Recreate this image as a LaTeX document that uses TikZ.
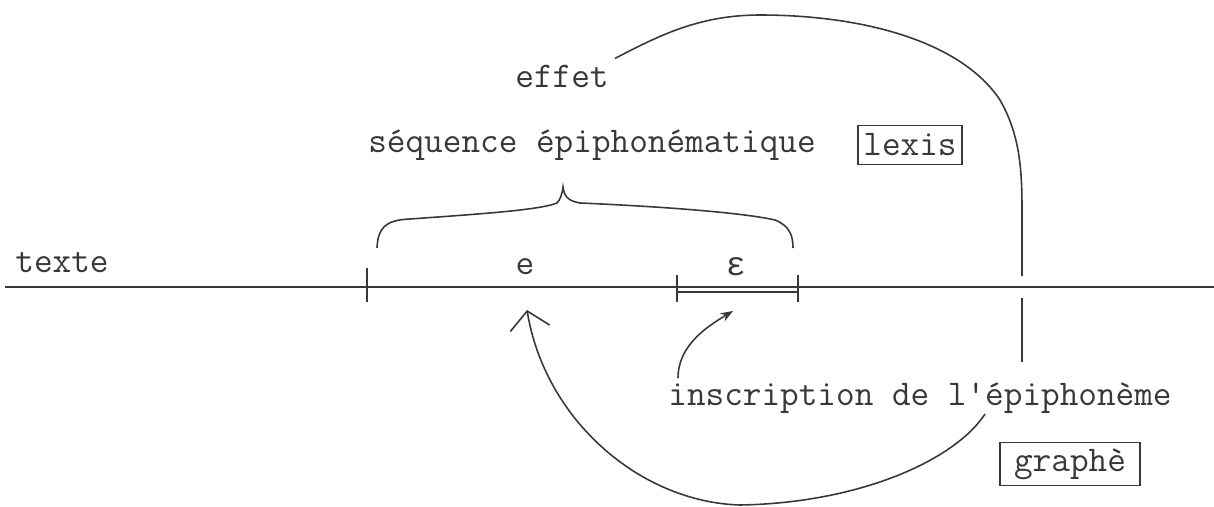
\documentclass[tikz,border=0pt]{standalone}
\usepackage{fontspec}
\usepackage{tikz}
\usetikzlibrary{positioning, calc, arrows.meta}

\newfontfamily\greekmono{Liberation Mono}
\newcommand{\typed}{\ttfamily\fontsize{20.6}{24}\selectfont}
\definecolor{ink}{gray}{0.22}

\begin{document}
\begin{tikzpicture}[
    x=0.02cm, y=-0.02cm,
    >=Stealth,
    every node/.style={font=\typed, text=ink},
    line/.style={draw=ink, line width=0.9pt},
    boxed/.style={
        draw=ink,
        line width=0.8pt,
        inner xsep=3pt,
        minimum height=0.78cm
    }
]
\useasboundingbox (0,0) rectangle (1214,507);

% labels
\node (texte) at (62,263) {texte};
\node (effet) at (562,76) {effet};
\node (seq) at (592,145) {séquence épiphonématique};
\node[boxed] (lexis) at (910,145) {lexis};
\node (e) at (525,267) {e};
\node (eps) at (736,267) {\greekmono\fontsize{19}{22}\selectfont ε};
\node (inscr) at (920,398) {inscription de l'épiphonème};
\node[boxed, minimum width=2.8cm] (graphe) at (1070,464) {graphè};

% text line and its cuts
\coordinate (start) at (5,287);
\coordinate (stop) at (1214,287);
\coordinate (cut0) at (367,287);
\coordinate (cut1) at (677,287);
\coordinate (cut2) at (798,287);
\draw[line] (start) -- (stop);
\draw[line] ($(cut0)+(0,-19)$) -- ($(cut0)+(0,15)$);
\draw[line] ($(cut1)+(0,-12)$) -- ($(cut1)+(0,15)$);
\draw[line] ($(cut2)+(0,-12)$) -- ($(cut2)+(0,15)$);
\draw[line] ($(cut1)+(0,5)$) -- ($(cut2)+(0,5)$);

% brace over e and epsilon
\draw[line] (377,248) .. controls (378,228) and (385,220) .. (410,219)
    .. controls (480,214) and (540,210) .. (557,203)
    .. controls (560,200) and (562,195) .. (563,187)
    .. controls (564,196) and (568,201) .. (580,203)
    .. controls (650,206) and (740,212) .. (775,220)
    .. controls (790,226) and (793,236) .. (793,248);

% effet, round to the inscription
\coordinate (ring a) at (1022,276);
\coordinate (ring b) at (1022,298);
\coordinate (ring end) at (1022,362);
\draw[line] (effet.north east) .. controls (660,35) and (700,15) .. (760,15)
    .. controls (860,15) and (960,40) .. (1000,100)
    .. controls (1020,135) and (1022,170) .. (1022,210) -- (ring a);
\draw[line] (ring b) -- (ring end);

% arrows
\coordinate (tail) at (678,378);
\coordinate (tip) at (733,311);
\draw[line, ->] (tail) .. controls (678,345) and (708,326) .. (tip);

\coordinate (back) at (985,414);
\coordinate (under e) at (527,310);
\draw[line, -{Straight Barb[length=3.5mm, width=8mm]}] (back)
    .. controls (955,460) and (860,503) .. (740,505)
    .. controls (640,502) and (545,420) .. (under e);
\end{tikzpicture}
\end{document}
